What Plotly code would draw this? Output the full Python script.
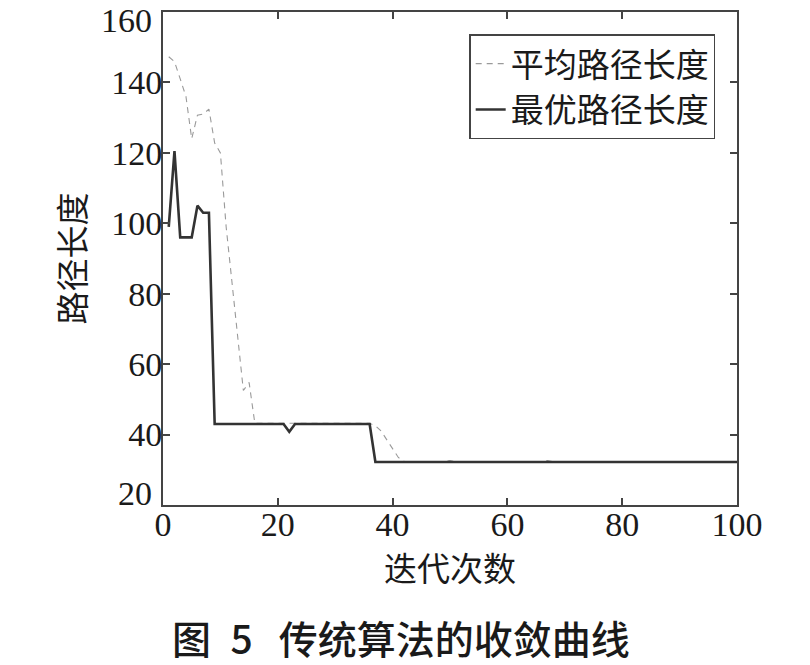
import plotly.graph_objects as go

iterations = list(range(1, 101))

best_len = [99, 120.5, 96, 96, 96, 105, 103, 103,
            43, 43, 43, 43, 43, 43, 43, 43, 43, 43, 43, 43, 43,
            40.8,
            43, 43, 43, 43, 43, 43, 43, 43, 43, 43, 43, 43, 43, 43,
            32.2, 32.2, 32.2, 32.2, 32.2, 32.2, 32.2, 32.2, 32.2, 32.2,
            32.2, 32.2, 32.2, 32.2, 32.2, 32.2, 32.2, 32.2, 32.2, 32.2,
            32.2, 32.2, 32.2, 32.2, 32.2, 32.2, 32.2, 32.2, 32.2, 32.2,
            32.2, 32.2, 32.2, 32.2, 32.2, 32.2, 32.2, 32.2, 32.2, 32.2,
            32.2, 32.2, 32.2, 32.2, 32.2, 32.2, 32.2, 32.2, 32.2, 32.2,
            32.2, 32.2, 32.2, 32.2, 32.2, 32.2, 32.2, 32.2, 32.2, 32.2,
            32.2, 32.2, 32.2, 32.2]

mean_len = [147.3, 145.9, 141, 136, 124, 130.7, 131, 132.4, 122.8, 120,
            99, 84, 68, 52.5, 54.8, 43.2, 43.2, 43.2, 43.2, 43.2,
            43.2, 43.2, 43.2, 43.2, 43.2, 43.2, 43.2, 43.2, 43.2, 43.2,
            43.2, 43.2, 43.2, 43.2, 43.2, 43.2, 42.5, 41, 38.5, 36,
            33.5, 32.4, 32.3, 32.3, 32.3, 32.3, 32.3, 32.3, 32.3, 32.6,
            32.3, 32.3, 32.3, 32.3, 32.3, 32.3, 32.3, 32.3, 32.3, 32.3,
            32.3, 32.3, 32.3, 32.3, 32.3, 32.3, 32.6, 32.3, 32.3, 32.3,
            32.3, 32.3, 32.3, 32.3, 32.3, 32.3, 32.3, 32.3, 32.3, 32.3,
            32.3, 32.3, 32.3, 32.3, 32.3, 32.3, 32.3, 32.3, 32.3, 32.3,
            32.3, 32.3, 32.3, 32.3, 32.3, 32.3, 32.3, 32.3, 32.3, 32.3]

x_ticks = [0, 20, 40, 60, 80, 100]
y_ticks = [20, 40, 60, 80, 100, 120, 140, 160]

series_names = ["平均路径长度", "最优路径长度"]
x_title = "迭代次数"
y_title = "路径长度"
caption = "图\u20025\u2002\u2006传统算法的收敛曲线"

serif = "Liberation Serif, Times New Roman, serif"
cjk = "Noto Sans CJK SC"
tick_font = dict(family=serif, size=34, color="#1a1a1a")

fig = go.Figure()
fig.add_trace(go.Scatter(
    x=iterations, y=mean_len, mode="lines", name=series_names[0],
    line=dict(color="#9a9a9a", width=1.1, dash="6px,5px"),
))
fig.add_trace(go.Scatter(
    x=iterations, y=best_len, mode="lines", name=series_names[1],
    line=dict(color="#333333", width=2.6),
))

axis_common = dict(
    showline=True, linecolor="#444444", linewidth=2, mirror="ticks",
    ticks="inside", ticklen=7, tickwidth=1.5, tickcolor="#444444",
    showgrid=False, zeroline=False, ticklabeloverflow="allow",
    tickfont=tick_font,
)

y_lo, y_hi = y_ticks[0], y_ticks[-1]

fig.update_xaxes(
    range=[x_ticks[0], x_ticks[-1]], tickvals=x_ticks, ticktext=[str(v) for v in x_ticks],
    title=dict(text=x_title, font=dict(family=cjk, size=33, color="#1a1a1a"), standoff=0),
    ticklabelstandoff=-12,
    **axis_common,
)
fig.update_yaxes(
    range=[y_lo, y_hi], tickvals=y_ticks,
    ticktext=["" if v in (y_lo, y_hi) else str(v) for v in y_ticks],
    title=dict(text=y_title, font=dict(family=cjk, size=33, color="#1a1a1a"), standoff=16),
    ticklabelstandoff=-8,
    **axis_common,
)

# end tick labels nudged inward, as in the original figure
end_labels = [
    dict(text=str(y_hi), xref="paper", x=0, yref="y", y=y_hi, xanchor="right",
         yanchor="middle", xshift=-9, yshift=-8, showarrow=False, font=tick_font),
    dict(text=str(y_lo), xref="paper", x=0, yref="y", y=y_lo, xanchor="right",
         yanchor="middle", xshift=-9, yshift=12, showarrow=False, font=tick_font),
]

fig.update_layout(
    width=810, height=665,
    margin=dict(l=163, r=73, t=12, b=160, autoexpand=False),
    paper_bgcolor="white", plot_bgcolor="white",
    showlegend=True,
    legend=dict(
        x=0.962, y=0.955, xanchor="right", yanchor="top",
        bgcolor="white", bordercolor="#444444", borderwidth=1.5,
        font=dict(family=cjk, size=33, color="#1a1a1a"),
        tracegroupgap=0,
    ),
    annotations=end_labels + [dict(
        text=caption, xref="paper", yref="paper",
        x=0.414, y=-0.268, xanchor="center", yanchor="middle",
        showarrow=False,
        font=dict(family=cjk, size=39, color="#1a1a1a", weight=500),
    )],
)

fig.write_html(
    "out.html",
    config={"displayModeBar": False},
    post_script="document.body.style.margin='0';document.body.style.overflow='hidden';",
)
